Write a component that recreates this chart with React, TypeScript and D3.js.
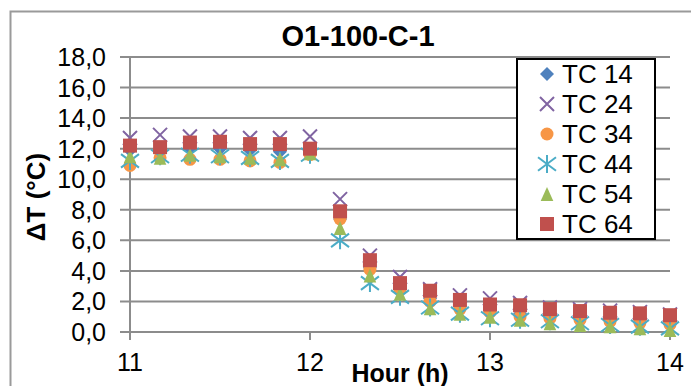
import React from "react";
import * as d3 from "d3";

const hours = [11, 11.167, 11.333, 11.5, 11.667, 11.833, 12, 12.167, 12.333, 12.5, 12.667, 12.833, 13, 13.167, 13.333, 13.5, 13.667, 13.833, 14];
const tc14 = [11.9, 11.8, 12.0, 12.0, 11.9, 11.8, 11.9, 7.4, 4.2, 2.9, 2.2, 1.7, 1.4, 1.2, 1.0, 0.9, 0.8, 0.65, 0.5];
const tc24 = [12.7, 12.9, 12.8, 12.8, 12.7, 12.7, 12.8, 8.7, 5.0, 3.6, 2.8, 2.4, 2.2, 1.9, 1.6, 1.5, 1.4, 1.3, 1.15];
const tc34 = [10.9, 11.4, 11.3, 11.3, 11.2, 11.1, 11.6, 7.4, 4.1, 2.8, 2.0, 1.5, 1.3, 1.0, 0.9, 0.8, 0.7, 0.6, 0.5];
const tc44 = [11.2, 11.5, 11.6, 11.5, 11.4, 11.2, 11.6, 6.0, 3.2, 2.3, 1.6, 1.2, 0.9, 0.8, 0.7, 0.57, 0.46, 0.35, 0.24];
const tc54 = [11.5, 11.4, 11.6, 11.5, 11.4, 11.3, 11.7, 6.8, 3.7, 2.5, 1.55, 1.2, 1.0, 0.8, 0.57, 0.46, 0.37, 0.24, 0.13];
const tc64 = [12.2, 12.1, 12.4, 12.45, 12.3, 12.3, 12.0, 7.9, 4.7, 3.2, 2.7, 2.1, 1.8, 1.75, 1.5, 1.37, 1.26, 1.22, 1.1];

const seriesNames = ["TC 14", "TC 24", "TC 34", "TC 44", "TC 54", "TC 64"];
const seriesValues = [tc14, tc24, tc34, tc44, tc54, tc64];
const seriesColors = ["#4F81BD", "#8064A2", "#F79646", "#4BACC6", "#9BBB59", "#C0504D"];
const seriesShapes = ["diamond", "x", "circle", "star", "triangle", "square"];

const xTicks = [11, 12, 13, 14];
const yTicks = [0, 2, 4, 6, 8, 10, 12, 14, 16, 18];

const title = "O1-100-C-1";
const xTitle = "Hour (h)";
const yTitle = "ΔT (°C)";

const W = 691;
const H = 386;
const FONT = "'Liberation Sans', Arial, sans-serif";

function Marker({ shape, x, y, color }: { shape: string; x: number; y: number; color: string }) {
  switch (shape) {
    case "diamond": {
      const s = 7;
      return <path d={`M${x},${y - s}L${x + s},${y}L${x},${y + s}L${x - s},${y}Z`} fill={color} />;
    }
    case "x": {
      const s = 7;
      return (
        <path d={`M${x - s},${y - s}L${x + s},${y + s}M${x - s},${y + s}L${x + s},${y - s}`} stroke={color} strokeWidth={2} fill="none" />
      );
    }
    case "circle":
      return <circle cx={x} cy={y} r={6.5} fill={color} />;
    case "star": {
      const s = 9;
      return (
        <path
          d={`M${x - s},${y - s * 0.75}L${x + s},${y + s * 0.75}M${x - s},${y + s * 0.75}L${x + s},${y - s * 0.75}M${x},${y - s}L${x},${y + s}`}
          stroke={color}
          strokeWidth={2}
          fill="none"
        />
      );
    }
    case "triangle": {
      const s = 7;
      return <path d={`M${x},${y - s}L${x + s * 0.9},${y + s}L${x - s * 0.9},${y + s}Z`} fill={color} />;
    }
    default: {
      const s = 7;
      return <rect x={x - s} y={y - s} width={2 * s} height={2 * s} fill={color} />;
    }
  }
}

export default function App() {
  const x = d3.scaleLinear().domain([11, 14]).range([130, 670]);
  const y = d3.scaleLinear().domain([0, 18]).range([332, 57]);
  const fmt = (v: number) => d3.format(".1f")(v).replace(".", ",");

  return (
    <div style={{ position: "fixed", left: 0, top: 0 }}>
      <svg width={W} height={H} style={{ display: "block", background: "#fff" }} fontFamily={FONT}>
        <rect x={10.5} y={11.5} width={W + 20} height={H + 20} fill="#fff" stroke="#9a9a9a" strokeWidth={2} />
        {yTicks.map((t) => (
          <line key={"g" + t} x1={120} x2={670} y1={y(t)} y2={y(t)} stroke="#8c8c8c" strokeWidth={2} />
        ))}
        <line x1={130} x2={130} y1={y(18)} y2={340} stroke="#8c8c8c" strokeWidth={2} />
        {xTicks.map((t) => (
          <line key={"xt" + t} x1={x(t)} x2={x(t)} y1={y(0)} y2={340} stroke="#8c8c8c" strokeWidth={2} />
        ))}
        {yTicks.map((t) => (
          <text key={"yl" + t} x={106} y={y(t)} dy="0.36em" textAnchor="end" fontSize={25} fill="#000">
            {fmt(t)}
          </text>
        ))}
        {xTicks.map((t) => (
          <text key={"xl" + t} x={x(t)} y={371} textAnchor="middle" fontSize={25} fill="#000">
            {t}
          </text>
        ))}
        {seriesValues.map((vals, si) =>
          vals.map((v, i) => (
            <Marker key={si + "-" + i} shape={seriesShapes[si]} x={x(hours[i])} y={y(v)} color={seriesColors[si]} />
          ))
        )}
        <text x={358} y={46} textAnchor="middle" fontSize={29} fontWeight="bold" fill="#000">
          {title}
        </text>
        <text x={400} y={382} textAnchor="middle" fontSize={25} fontWeight="bold" fill="#000">
          {xTitle}
        </text>
        <text transform={`translate(45,197) rotate(-90)`} textAnchor="middle" fontSize={26} fontWeight="bold" fill="#000">
          {yTitle}
        </text>
        <rect x={517} y={59} width={138} height={180} fill="#fff" stroke="#000" strokeWidth={2} />
        {seriesNames.map((n, i) => (
          <g key={n}>
            <Marker shape={seriesShapes[i]} x={547} y={74 + i * 30} color={seriesColors[i]} />
            <text x={562} y={74 + i * 30} dy="0.36em" fontSize={26} fill="#000">
              {n}
            </text>
          </g>
        ))}
      </svg>
    </div>
  );
}
